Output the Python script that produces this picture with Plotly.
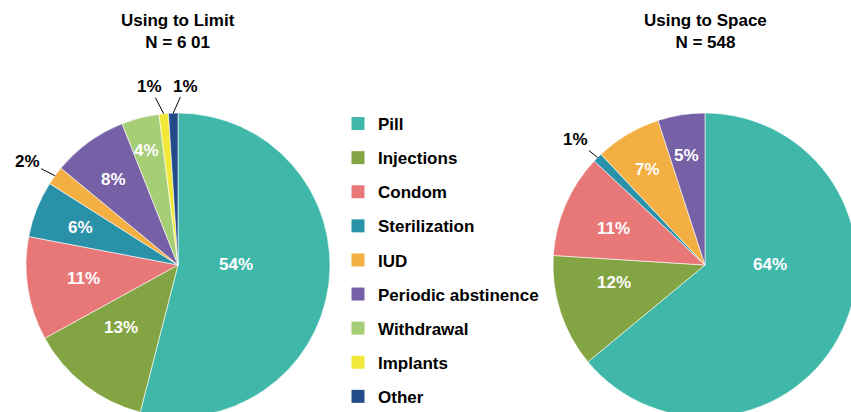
import math
import plotly.graph_objects as go

categories = ["Pill", "Injections", "Condom", "Sterilization", "IUD",
              "Periodic abstinence", "Withdrawal", "Implants", "Other"]
limit_values = [54, 13, 11, 6, 2, 8, 4, 1, 1]
space_values = [64, 12, 11, 1, 7, 5, 0, 0, 0]
colors = ["#3FB8AA", "#83A442", "#E87878", "#2A92A8", "#F4AF42",
          "#7660A6", "#A6CE77", "#F2E83A", "#234B8A"]

# ---- layout / style constants (pixels) ----
W, H = 860, 420
FONT = "Liberation Sans"
R = 152
CY = 265
CX_LIMIT, CX_SPACE = 178, 705
# label placement (pixel offsets from pie centre) for inside labels,
# and label offsets from the slice edge for outside labels
limit_label_pos = {"Pill": (58, -1), "Injections": (-57, 62), "Condom": (-95, 13),
                   "Sterilization": (-98, -37), "Periodic abstinence": (-64, -86),
                   "Withdrawal": (-32, -115)}
limit_outside = {"IUD": (-28, -14), "Implants": (-14, -27), "Other": (12, -27)}
space_label_pos = {"Pill": (65, -1), "Injections": (-91, 17), "Condom": (-92, -36),
                   "IUD": (-58, -96), "Periodic abstinence": (-19, -110)}
space_outside = {"Sterilization": (-22, -18)}


def to_paper(px, py):
    return px / W, 1 - py / H


def build(values, cx, inside_pos, outside_pos):
    labs, vals, cols = [], [], []
    for c, v, col in zip(categories, values, colors):
        if v > 0:
            labs.append(c); vals.append(v); cols.append(col)
    total = sum(vals)
    pie = go.Pie(
        labels=labs, values=vals, sort=False, direction="clockwise", rotation=0,
        marker=dict(colors=cols, line=dict(color="white", width=0.6)),
        textinfo="none", hoverinfo="label+value", showlegend=False,
        domain=dict(x=[(cx - R) / W, (cx + R) / W], y=[1 - (CY + R) / H, 1 - (CY - R) / H]),
    )
    anns = []
    cum = 0
    for c, v in zip(labs, vals):
        mid = (cum + v / 2) / total
        cum += v
        txt = "<b>%d%%</b>" % v
        if c in inside_pos:
            dx, dy = inside_pos[c]
            x, y = to_paper(cx + dx, CY + dy)
            anns.append(dict(text=txt, x=x, y=y, xref="paper", yref="paper",
                             showarrow=False, xanchor="center", yanchor="middle",
                             font=dict(color="white", size=17, family=FONT)))
        elif c in outside_pos:
            a = 2 * math.pi * mid
            tx, ty = cx + R * math.sin(a), CY - R * math.cos(a)
            x, y = to_paper(tx, ty)
            ax, ay = outside_pos[c]
            anns.append(dict(text=txt, x=x, y=y, xref="paper", yref="paper",
                             showarrow=True, arrowhead=0, arrowwidth=1, arrowcolor="black",
                             standoff=0, ax=ax, ay=ay,
                             font=dict(color="black", size=17, family=FONT)))
    return pie, anns


fig = go.Figure()
p1, a1 = build(limit_values, CX_LIMIT, limit_label_pos, limit_outside)
p2, a2 = build(space_values, CX_SPACE, space_label_pos, space_outside)
fig.add_trace(p1)
fig.add_trace(p2)

for c, col in zip(categories, colors):
    fig.add_trace(go.Scatter(
        x=[None], y=[None], mode="markers", name="<b>%s</b>" % c,
        legendgroup=c, marker=dict(symbol="square", size=13, color=col, line=dict(width=0)),
        showlegend=True, hoverinfo="skip"))

titles = [
    dict(text="<b>Using to Limit<br>N = 6 01</b>", x=CX_LIMIT / W, y=1 - 9 / H,
         xref="paper", yref="paper", xanchor="center", yanchor="top",
         showarrow=False, font=dict(size=17, family=FONT, color="black")),
    dict(text="<b>Using to Space<br>N = 548</b>", x=CX_SPACE / W, y=1 - 9 / H,
         xref="paper", yref="paper", xanchor="center", yanchor="top",
         showarrow=False, font=dict(size=17, family=FONT, color="black")),
]

fig.update_layout(
    width=W, height=H, margin=dict(l=0, r=0, t=0, b=0),
    paper_bgcolor="white", plot_bgcolor="white",
    font=dict(family=FONT, color="black", size=17),
    xaxis=dict(visible=False), yaxis=dict(visible=False),
    legend=dict(x=338 / W, y=1 - 106 / H, xanchor="left", yanchor="top",
                tracegroupgap=9, font=dict(size=17, family=FONT, color="black"),
                bgcolor="rgba(0,0,0,0)"),
    annotations=titles + a1 + a2,
)

fig.write_html("out.html", config={"displayModeBar": False},
               post_script="document.body.style.margin='0';document.body.style.overflow='hidden';")
